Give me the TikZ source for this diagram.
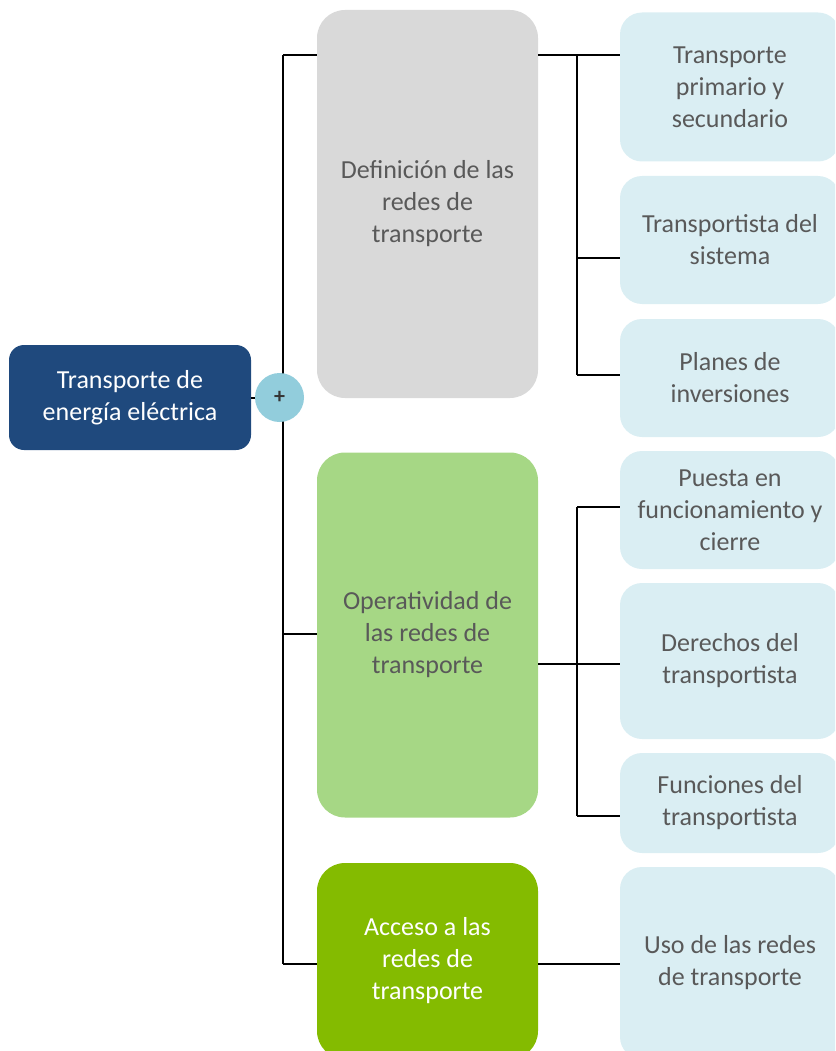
\documentclass[tikz,border=0pt]{standalone}
\usepackage{fontspec}
\setmainfont{Carlito}
\usetikzlibrary{arrows,backgrounds}

\definecolor{rootblue}{HTML}{1F497D}
\definecolor{plusblue}{HTML}{92CDDC}
\definecolor{boxgray}{HTML}{D9D9D9}
\definecolor{lightgreen}{HTML}{A6D785}
\definecolor{darkgreen}{HTML}{84BB00}
\definecolor{leafblue}{HTML}{DAEEF3}
\definecolor{textgray}{HTML}{595959}

\begin{document}
\begin{tikzpicture}[x=1pt, y=-1pt]
\tikzstyle{topic}=[rectangle, align=center, inner sep=0pt, font=\fontsize{26}{32}\selectfont]
\tikzstyle{root}=[topic, fill=rootblue, text=white, rounded corners=15pt, minimum width=242pt, minimum height=105pt]
\tikzstyle{branch}=[topic, rounded corners=28pt, minimum width=221pt]
\tikzstyle{leaf}=[topic, fill=leafblue, text=textgray, rounded corners=22pt, minimum width=220pt]
\tikzstyle{link}=[line width=2pt, black]

\clip (0, 0) rectangle (835, 1051);

% Root
\node at (130, 397.5) [root] (root) {Transporte de\\energía eléctrica};

% Level 1
\node at (427.5, 204) [branch, fill=boxgray, text=textgray, minimum height=388pt] (defn) {Definición de las\\redes de\\transporte};
\node at (427.5, 635) [branch, fill=lightgreen, text=textgray, minimum height=365pt] (oper) {Operatividad de\\las redes de\\transporte};
\node at (427.5, 961) [branch, fill=darkgreen, text=white, minimum height=196pt] (acceso) {Acceso a las\\redes de\\transporte};

% Level 2
\node at (730, 87) [leaf, minimum height=149pt] (leaf_1) {Transporte\\primario y\\secundario};
\node at (730, 240) [leaf, minimum height=128pt] (leaf_2) {Transportista del\\sistema};
\node at (730, 378) [leaf, minimum height=118pt] (leaf_3) {Planes de\\inversiones};
\node at (730, 510) [leaf, minimum height=118pt] (leaf_4) {Puesta en\\funcionamiento y\\cierre};
\node at (730, 661) [leaf, minimum height=156pt] (leaf_5) {Derechos del\\transportista};
\node at (730, 803) [leaf, minimum height=100pt] (leaf_6) {Funciones del\\transportista};
\node at (730, 963) [leaf, minimum height=192pt] (leaf_7) {Uso de las redes\\de transporte};

% Root -> Level 1
\coordinate (trunk_1) at (283, 55);
\coordinate (trunk_2) at (283, 633.5);
\coordinate (trunk_3) at (283, 964);
\draw [link] (root.east) -- (trunk_2 |- root.east);
\draw [link] (trunk_1) -- (trunk_3);
\draw [link] (trunk_1) -- (trunk_1 -| defn.west);
\draw [link] (trunk_2) -- (trunk_2 -| oper.west);
\draw [link] (trunk_3) -- (trunk_3 -| acceso.west);

% Level 1 -> Level 2
\coordinate (defn_1) at (577, 55);
\coordinate (defn_2) at (577, 258);
\coordinate (defn_3) at (577, 375);
\draw [link] (defn_1 -| defn.east) -- (defn_1 -| leaf_1.west);
\draw [link] (defn_1) -- (defn_3);
\foreach \j in {2,3}
\draw [link] (defn_\j) -- (defn_\j -| leaf_\j.west);

\coordinate (oper_4) at (577, 507);
\coordinate (oper_5) at (577, 664);
\coordinate (oper_6) at (577, 816);
\draw [link] (oper_5 -| oper.east) -- (oper_5 -| leaf_5.west);
\draw [link] (oper_4) -- (oper_6);
\foreach \j in {4,6}
\draw [link] (oper_\j) -- (oper_\j -| leaf_\j.west);

\coordinate (acceso_7) at (577, 964);
\draw [link] (acceso_7 -| acceso.east) -- (acceso_7 -| leaf_7.west);

% Plus
\node at (279.5, 397.5) [circle, fill=plusblue, minimum size=49pt, inner sep=0pt, text=textgray!60!black, font=\fontsize{22}{22}\selectfont\bfseries] (plus) {+};
\end{tikzpicture}
\end{document}
